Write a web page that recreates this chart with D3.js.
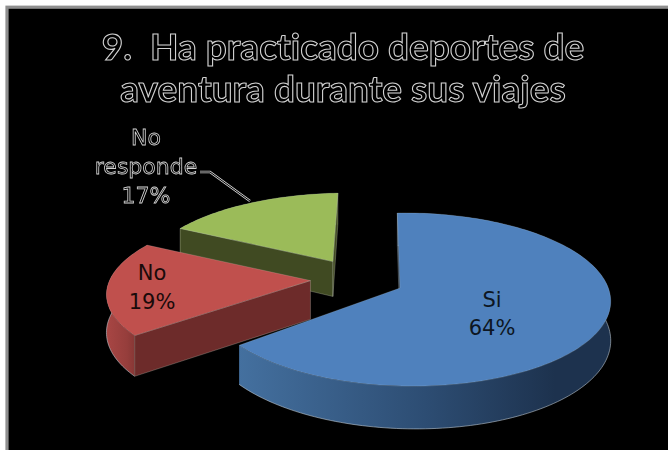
<!DOCTYPE html>
<html>
<head>
<meta charset="utf-8">
<script src="https://cdn.jsdelivr.net/npm/d3@7"></script>
<style>
  html, body { margin: 0; padding: 0; background: #fff; }
  svg { display: block; }
  .outlined { filter: url(#flat); }
  .outlined text { white-space: pre; font-variant-ligatures: none; }
</style>
</head>
<body>
<svg id="chart" width="668" height="450"></svg>
<script>
const titleLines = ["9.  Ha practicado deportes de", "aventura durante sus viajes"];
const categories = ["Si", "No", "No responde"];
const values = [64, 19, 17];
const labelLines = [["Si"], ["No"], ["No", "responde"]];
const topColors = ["#4f81bd", "#c0504d", "#9bbb59"];
const wallColors = ["#1b2f4a", "#6d2b2a", "#404a22"];
const rimStops = [
  ["#44709f", "#2d4d73", "#1d324e"],
  ["#a84644", "#963e3c", "#7c3230"],
  ["#6f8640", "#5f7336", "#4b5a29"]
];
// Ground-plane placement of each exploded slice, in pie radii
const explodeX = [0, -0.46, -0.35];
const explodeY = [0, 0.09, 0.33];
const radiusX = [1, 1.1, 1.04];
const depthScale = [1, 1.08, 1];

const svg = d3.select("#chart");
const W = 668, H = 450;

svg.append("rect").attr("width", W).attr("height", H).attr("fill", "#fff");
svg.append("rect").attr("x", 7).attr("y", 7.2).attr("width", W).attr("height", H)
  .attr("fill", "#000").attr("stroke", "#8f8f8f").attr("stroke-width", 3.2);

// Perspective view of the tilted pie
const cx = 400, cy = 288, Rx = 200, Ry = 85, pY = 0.133, pX = -0.04, depth = 37;
function project(X, Y, h) {
  const w = 1 + pY * Y + pX * X;
  return [cx + (Rx * X - 3 * Y) / w, cy + (-Ry * Y + h * depth) / w];
}

const pie = d3.pie().sort(null).value(d => d).startAngle(0).endAngle(2 * Math.PI);
const arcs = pie(values);
const line = d3.line();
const defs = svg.append("defs");

// Pass-through filter: renders the outlined text on its own layer with plain grey antialiasing
defs.append("filter").attr("id", "flat").append("feOffset").attr("dx", 0).attr("dy", 0);

function rimPoint(t, i, h) {
  return project(explodeX[i] + radiusX[i] * Math.sin(t), explodeY[i] + Math.cos(t), h * depthScale[i]);
}
function rimPoints(a, i, h) {
  const n = Math.max(2, Math.round((a.endAngle - a.startAngle) * 40));
  return d3.range(n + 1).map(k =>
    rimPoint(a.startAngle + (a.endAngle - a.startAngle) * k / n, i, h));
}
// A cut face shows only when the slice's surface lies above its radius on screen
function faceVisible(apex, rim, inside) {
  const cross = (rim[0] - apex[0]) * (inside[1] - apex[1]) - (rim[1] - apex[1]) * (inside[0] - apex[0]);
  const dir = rim[0] >= apex[0] ? 1 : -1;
  return cross * dir < 0;
}

// Painted back to front so nearer slices cover the farther ones
const order = [2, 1, 0];
order.forEach(i => {
  const a = arcs[i];
  const g = svg.append("g").attr("class", "slice").attr("data-category", categories[i]);
  const topRim = rimPoints(a, i, 0);
  const lowRim = rimPoints(a, i, 1);
  const apex = project(explodeX[i], explodeY[i], 0);
  const apexLow = project(explodeX[i], explodeY[i], depthScale[i]);

  const xs = topRim.map(p => p[0]);
  const grad = defs.append("linearGradient").attr("id", "rim" + i)
    .attr("gradientUnits", "userSpaceOnUse")
    .attr("x1", d3.min(xs)).attr("x2", d3.max(xs)).attr("y1", 0).attr("y2", 0);
  rimStops[i].forEach((c, k) => {
    grad.append("stop").attr("offset", [0, 0.5, 0.85][k]).attr("stop-color", c);
  });

  // Outer band
  g.append("path")
    .attr("d", line(topRim.concat(lowRim.slice().reverse())) + "Z")
    .attr("fill", `url(#rim${i})`);
  // Lower edge of the band catches a pale highlight
  g.append("path").attr("d", line(lowRim))
    .attr("fill", "none").attr("stroke", "#c9d3dc").attr("stroke-opacity", 0.55).attr("stroke-width", 1);

  // Cut faces on the two radii
  const mid = (a.endAngle - a.startAngle) * 0.1;
  [[a.startAngle + mid, 0], [a.endAngle - mid, topRim.length - 1]].forEach(([tIn, idx]) => {
    const inside = rimPoint(tIn, i, 0);
    if (!faceVisible(apex, topRim[idx], inside)) return;
    g.append("path").attr("d", line([topRim[idx], apex, apexLow, lowRim[idx]]) + "Z")
      .attr("fill", wallColors[i])
      .attr("stroke", "#d8dccb").attr("stroke-opacity", 0.35).attr("stroke-width", 0.8);
  });

  // Top surface
  g.append("path").attr("d", line([apex].concat(topRim)) + "Z")
    .attr("fill", topColors[i])
    .attr("stroke", "#dfe5ea").attr("stroke-opacity", 0.25).attr("stroke-width", 0.7);
});

// Outlined text: dark fill with a pale stroke around the glyphs
function outlined(sel) {
  return sel.attr("fill", "#000").attr("stroke", "#d2d2d2").attr("stroke-width", 1.1)
    .attr("text-anchor", "middle").attr("dominant-baseline", "central");
}

svg.append("g").attr("class", "outlined").selectAll("text").data(titleLines).join("text")
  .attr("x", 343).attr("y", (d, i) => 45 + i * 42)
  .attr("font-family", "Lato, 'Open Sans', sans-serif")
  .attr("font-size", 37).attr("font-weight", 700)
  .text(d => d)
  .call(outlined);

// Leader line for the outlined label
const leader = [[200, 172], [210, 172], [250, 201]];
svg.append("path").attr("d", line(leader)).attr("fill", "none")
  .attr("stroke", "#cfcfcf").attr("stroke-width", 2.4);
svg.append("path").attr("d", line(leader)).attr("fill", "none")
  .attr("stroke", "#000").attr("stroke-width", 1);

const labelFont = "'DejaVu Sans', Verdana, sans-serif";
const labelX = [492, 152, 146];
const labelY = [300, 273, 137];
const labelStep = [28, 29, 29];
[0, 1, 2].forEach(i => {
  const rows = labelLines[i].concat(values[i] + "%");
  const t = svg.append("g").attr("class", i === 2 ? "outlined" : null)
    .selectAll("text").data(rows).join("text")
    .attr("x", labelX[i]).attr("y", (d, k) => labelY[i] + k * labelStep[i])
    .attr("font-family", labelFont).attr("font-size", i === 2 ? 22 : 21)
    .attr("text-anchor", "middle").attr("dominant-baseline", "central")
    .text(d => d);
  if (i === 2) t.call(outlined).attr("stroke-width", 0.8);
  else t.attr("fill", i === 0 ? "#0d1622" : "#1a0a0a");
});
</script>
</body>
</html>
